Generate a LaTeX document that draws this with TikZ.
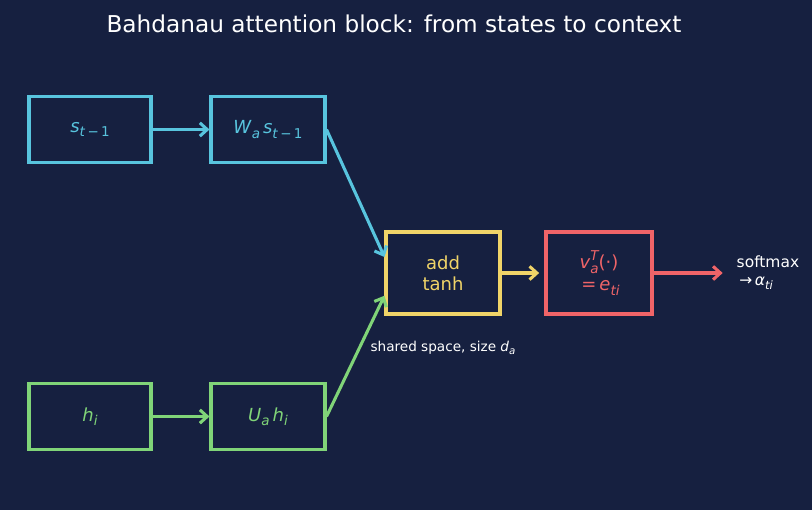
\documentclass[tikz,border=0pt]{standalone}
\usepackage{fontspec}
\setmainfont{DejaVu Sans}
\usetikzlibrary{arrows.meta}

\definecolor{bgblue}{RGB}{22,32,64}
\definecolor{cyanline}{RGB}{88,196,222}
\definecolor{greenline}{RGB}{128,212,120}
\definecolor{yellowline}{RGB}{240,212,104}
\definecolor{redline}{RGB}{240,100,104}

\newcommand{\vi}[1]{\textit{#1}}
\newcommand{\lo}[1]{\raisebox{-0.25em}{\fontsize{0.75em}{1em}\selectfont #1}}
\newcommand{\hi}[1]{\raisebox{0.45em}{\fontsize{0.75em}{1em}\selectfont #1}}

\tikzset{
	block/.style={draw, line width=2.3pt, minimum height=50pt, inner sep=0pt, font=\fontsize{13.5}{16}\selectfont},
	flow/.style={line width=2.3pt, -{Straight Barb[length=5.5pt,width=10pt,line width=2.3pt]}}
}

\begin{document}
\begin{tikzpicture}[x=0.75pt,y=-0.75pt]
	\fill[bgblue] (0,0) rectangle (812,510);
	\useasboundingbox (0,0) rectangle (812,510);

	\node[white,font=\fontsize{17.4}{20}\selectfont] (title) at (394,24) {Bahdanau attention block: from states to context};

	\node[block,cyanline,minimum width=91.5pt] (sprev) at (90,129.5) {\vi{s}\lo{\vi{t}\,−\,1}};
	\node[block,cyanline,minimum width=85.5pt] (wsprev) at (268,129.5) {\vi{W}\lo{\vi{a}}\,\vi{s}\lo{\vi{t}\,−\,1}};
	\node[block,greenline,minimum width=91.5pt] (hidden) at (90,416.5) {\vi{h}\lo{\vi{i}}};
	\node[block,greenline,minimum width=85.5pt] (uhidden) at (268,416.5) {\vi{U}\lo{\vi{a}}\,\vi{h}\lo{\vi{i}}};
	\node[block,yellowline,minimum width=85.5pt,minimum height=61.5pt,align=center,font=\fontsize{13.5}{15.75}\selectfont] (addtanh) at (443,273) {add\\tanh};
	\node[block,redline,minimum width=79.5pt,minimum height=61.5pt,align=center,font=\fontsize{13.5}{16.5}\selectfont] (score) at (599,273) {\vi{v}\rlap{\hi{\vi{T}}}\lo{\vi{a}}(·)\\\,=\,\vi{e}\lo{\vi{ti}}};

	\node[white,anchor=west,align=left,font=\fontsize{11.6}{13.5}\selectfont] (softmax) at (732,273) {softmax\\\,→\,\vi{α}\lo{\vi{ti}}};
	\node[white,font=\fontsize{10.2}{12}\selectfont] (shared) at (443,348) {shared space, size \vi{d}\lo{\vi{a}}};

	\draw[flow,cyanline] (sprev) -- (wsprev);
	\draw[flow,cyanline] (wsprev.east) -- ([yshift=12pt]addtanh.west);
	\draw[flow,greenline] (hidden) -- (uhidden);
	\draw[flow,greenline] (uhidden.east) -- ([yshift=-17pt]addtanh.west);
	\draw[flow,yellowline] (addtanh) -- ([xshift=-4pt]score.west);
	\draw[flow,redline] (score) -- ([xshift=-7pt]softmax.west);
\end{tikzpicture}
\end{document}
